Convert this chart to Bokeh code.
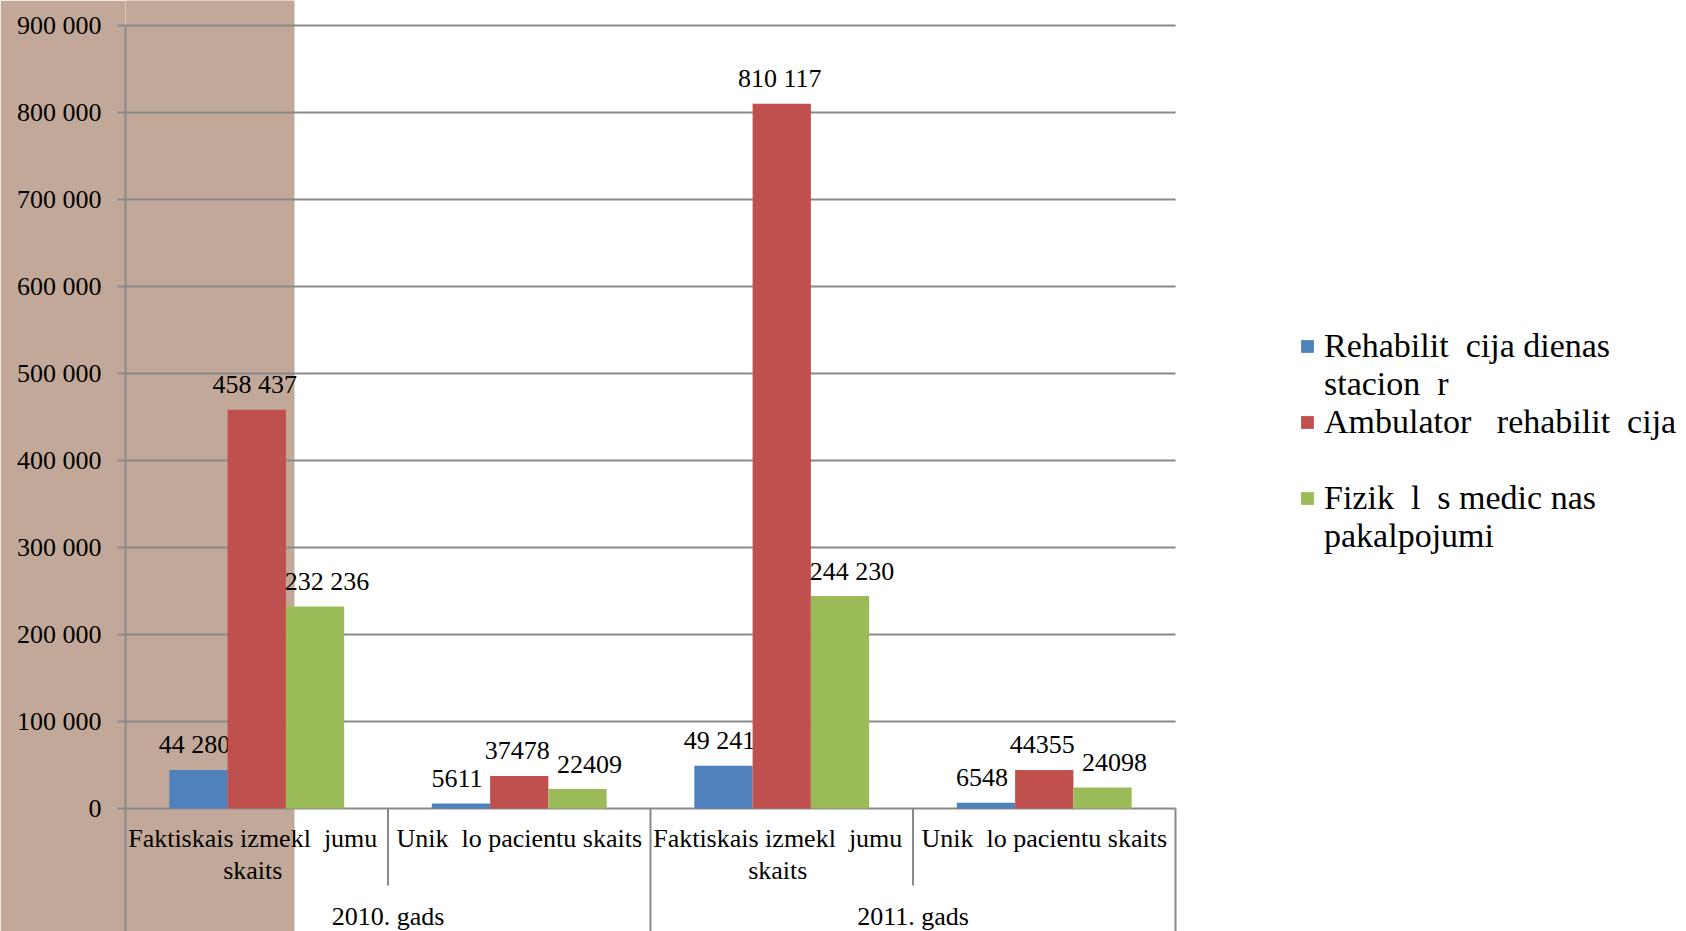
import numpy as np
from bokeh.plotting import figure
from bokeh.models import Range1d, FixedTicker, Legend, LegendItem, BoxAnnotation
from bokeh.core.properties import value
from bokeh.embed import file_html
from bokeh.resources import INLINE

# ---------------- data ----------------
years = ["2010. gads", "2011. gads"]
categories = [
    "Faktiskais izmekl\u00a0 jumu\nskaits",
    "Unik\u00a0 lo pacientu skaits",
    "Faktiskais izmekl\u00a0 jumu\nskaits",
    "Unik\u00a0 lo pacientu skaits",
]
category_year = [0, 0, 1, 1]
group_thousands = [True, False, True, False]   # label number style per category

series_lines = [
    ["Rehabilit\u00a0 cija dienas", "stacion\u00a0 r"],
    ["Ambulator\u00a0\u00a0 rehabilit\u00a0 cija", ""],
    ["Fizik\u00a0 l\u00a0 s medic nas", "pakalpojumi"],
]
rehab_day = [44280, 5611, 49241, 6548]
ambulatory = [458437, 37478, 810117, 44355]
physical = [232236, 22409, 244230, 24098]
series_values = [rehab_day, ambulatory, physical]

y_ticks = [0, 100000, 200000, 300000, 400000, 500000, 600000, 700000, 800000, 900000]

# ---------------- style / layout ----------------
FONT = "Liberation Serif"
COLORS = ["#4F81BD", "#C0504D", "#9BBB59"]
BROWN = "#C1A898"
GRID = "#898989"
W, H = 1686, 931
LEFT = 125          # frame left edge (px)
ZERO_PX = 808       # y pixel of value 0
TOP_PX = 25         # y pixel of top tick
CAT_W_PX = 262.5    # width of one category (px)
BAND_RIGHT_PX = 294
BAR_W = 0.222
LABEL_DX = [-4, -2, 12]
CAT_LABEL_DX = [-4, 0, -4, 0]
LEG_ROW = 38
LEG_TOP = 327

ypx = (ZERO_PX - TOP_PX) / y_ticks[-1]
y_end = ZERO_PX / ypx
y_start = -(H - ZERO_PX) / ypx
x_end = (W - LEFT) / CAT_W_PX
n_cat = len(categories)

p = figure(width=W, height=H, x_range=Range1d(0, x_end), y_range=Range1d(y_start, y_end),
           output_backend="svg", toolbar_location=None, x_axis_location=None,
           min_border_left=LEFT, min_border_right=0, min_border_top=0, min_border_bottom=0,
           border_fill_color=BROWN, background_fill_color="white", outline_line_color=None)
p.grid.visible = False

# brown band
p.add_layout(BoxAnnotation(left=-1, right=(BAND_RIGHT_PX - LEFT) / CAT_W_PX,
                           bottom=y_start * 2, top=y_end * 2,
                           fill_color=BROWN, fill_alpha=1.0, line_color=None, level="image"))

# horizontal gridlines over the category span
p.segment(x0=[0] * len(y_ticks), x1=[n_cat] * len(y_ticks), y0=y_ticks, y1=y_ticks,
          line_color=GRID, line_width=2)

# y axis
ax = p.yaxis[0]
ax.ticker = FixedTicker(ticks=y_ticks)
ax.major_label_overrides = {t: f"{t:,}".replace(",", " ") for t in y_ticks}
ax.bounds = (y_start, y_ticks[-1])
ax.axis_line_color = GRID
ax.axis_line_width = 2
ax.major_tick_line_color = GRID
ax.major_tick_line_width = 2
ax.major_tick_in = 0
ax.major_tick_out = 8
ax.minor_tick_line_color = None
ax.major_label_standoff = 16
ax.major_label_text_font = FONT
ax.major_label_text_font_size = "26px"
ax.major_label_text_color = "black"

# bars
cat_centers = np.arange(n_cat) + 0.5
renderers = []
for i, (vals, col) in enumerate(zip(series_values, COLORS)):
    xs = cat_centers + (i - 1) * BAR_W
    r = p.vbar(x=xs, top=vals, width=BAR_W, fill_color=col, line_color=None)
    renderers.append(r)
    labels = [f"{v:,}".replace(",", " ") if g else str(v) for v, g in zip(vals, group_thousands)]
    p.text(x=xs, y=vals, text=labels, x_offset=LABEL_DX[i], y_offset=-25,
           text_align="center", text_baseline="alphabetic",
           text_font=value(FONT), text_font_size="26px", text_color="black")

# category labels
p.text(x=cat_centers, y=[0] * n_cat, text=categories, x_offset=CAT_LABEL_DX, y_offset=15,
       text_align="center", text_baseline="top", text_line_height=1.12,
       text_font=value(FONT), text_font_size="26px", text_color="black")

# year labels
year_x = [float(np.mean([c for c, yy in zip(cat_centers, category_year) if yy == k])) for k in range(len(years))]
p.text(x=year_x, y=[0] * len(years), text=years, y_offset=108,
       text_align="center", text_baseline="alphabetic",
       text_font=value(FONT), text_font_size="26px", text_color="black")

# category dividers
inner_x, outer_x = [], []
for b in range(1, n_cat + 1):
    if b == n_cat or category_year[b] != category_year[b - 1]:
        outer_x.append(b)
    else:
        inner_x.append(b)
p.segment(x0=inner_x, x1=inner_x, y0=[0] * len(inner_x), y1=[-77 / ypx] * len(inner_x),
          line_color=GRID, line_width=2)
p.segment(x0=outer_x, x1=outer_x, y0=[0] * len(outer_x), y1=[y_start] * len(outer_x),
          line_color=GRID, line_width=2)

# legend
items = []
for r, lines in zip(renderers, series_lines):
    items.append(LegendItem(label=lines[0], renderers=[r]))
    items.append(LegendItem(label=lines[1], renderers=[]))
legend = Legend(items=items, location=(1299 - LEFT, H - LEG_TOP - 6 * LEG_ROW),
                label_text_font=FONT, label_text_font_size="34px", label_text_color="black",
                glyph_width=16, glyph_height=16, label_standoff=9, padding=0, margin=0,
                spacing=0, label_height=LEG_ROW, border_line_color=None, background_fill_alpha=0)
p.add_layout(legend)

open("out.html", "w").write(file_html(p, INLINE))
